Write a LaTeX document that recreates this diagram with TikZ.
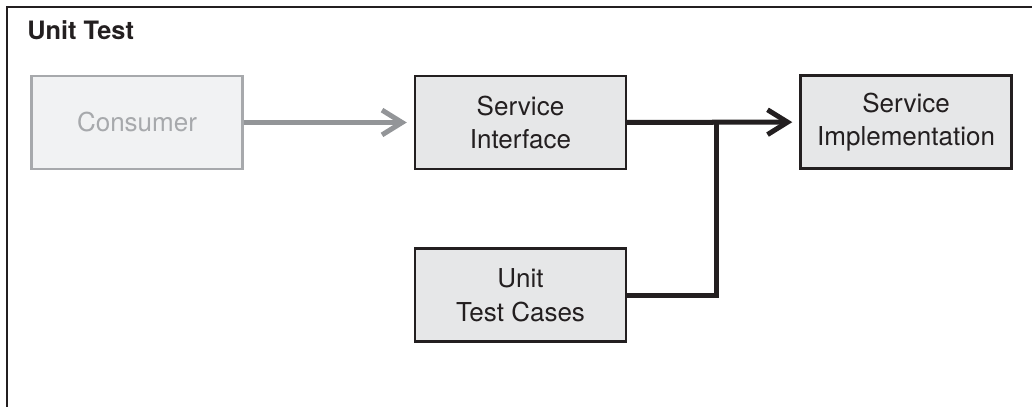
\documentclass[tikz,border=0pt]{standalone}
\usepackage{fontspec}
\setmainfont{TeX Gyre Heros}
\usetikzlibrary{arrows.meta}
\definecolor{inkdark}{HTML}{231F20}
\definecolor{boxgray}{HTML}{E6E7E8}
\definecolor{palefill}{HTML}{F1F2F3}
\definecolor{paleline}{HTML}{A7A9AC}
\definecolor{arrowgray}{HTML}{939598}
\begin{document}
\begin{tikzpicture}[x=0.025cm,y=-0.025cm,
  unit/.style={draw=inkdark,fill=boxgray,line width=0.06cm,
    minimum width=5.275cm,minimum height=2.325cm,inner sep=0pt,
    align=center,text=inkdark,font=\fontsize{18.5}{24}\selectfont},
  faded/.style={unit,draw=paleline,fill=palefill,text=paleline},
  link/.style={draw=inkdark,line width=0.125cm},
  tip/.style={-{Straight Barb[length=0.5cm,width=0.62cm]}}
  ]
  \useasboundingbox (0,0) rectangle (1032,407);
  % open frame
  \draw[inkdark,line width=0.055cm] (1040,7) -- (7,7) -- (7,415);
  \node[anchor=base west,inner sep=0pt,text=inkdark,
    font=\fontsize{18}{21}\selectfont\bfseries] (title) at (27,40) {Unit Test};
  \node[faded] (consumer) at (137,122.5) {Consumer};
  \node[unit] (iface) at (520.5,122.5) {Service\\Interface};
  \node[unit] (impl) at (906,122) {Service\\Implementation};
  \node[unit] (cases) at (520.5,295) {Unit\\Test Cases};
  \coordinate (fork) at (716,122.5);
  % connectors
  \draw[link,draw=arrowgray,tip,shorten >=0.175cm] (consumer) -- (iface);
  \draw[link,tip,shorten >=0.175cm] (iface) -- (impl);
  \draw[link] (cases.east) -| (fork);
\end{tikzpicture}
\end{document}
